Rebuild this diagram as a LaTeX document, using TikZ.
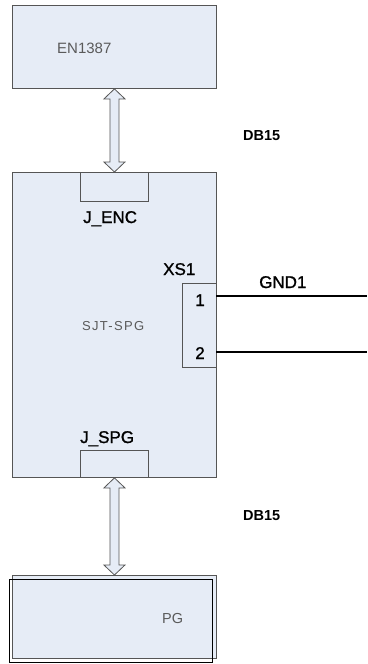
\documentclass[tikz,border=0pt]{standalone}
\usepackage{fontspec}
\setmainfont{Liberation Sans}
\usetikzlibrary{calc}
\definecolor{boxfill}{HTML}{E6ECF6}
\definecolor{boxline}{HTML}{555555}
\definecolor{txtgray}{HTML}{5A5A5A}
\tikzset{
  block/.style={draw=boxline, fill=boxfill, line width=0.9pt, inner sep=0pt, anchor=north west},
  plainbox/.style={draw=boxline, line width=0.9pt, inner sep=0pt, anchor=north west},
  graytext/.style={text=txtgray, font=\fontsize{15}{17}\selectfont, inner sep=0pt, anchor=base west},
  label/.style={text=black, font=\addfontfeature{FakeBold=1.2}\fontsize{17}{19}\selectfont, inner sep=0pt, anchor=base west},
  dblabel/.style={text=black, font=\bfseries\fontsize{14.5}{16}\selectfont, inner sep=0pt, anchor=base west},
  arrowbody/.style={draw=boxline, fill=boxfill, line width=0.8pt, line join=miter},
  pinline/.style={draw=black, line width=1.4pt}
}
\newcommand{\blockarrow}[2]{%
  \draw[arrowbody] let \p1=(#1), \p2=(#2) in
    (\x1,\y1) -- (\x1+10.5pt,\y1-10pt) -- (\x1+4.5pt,\y1-10pt) -- (\x1+4.5pt,\y2+10pt)
    -- (\x1+10.5pt,\y2+10pt) -- (\x1,\y2) -- (\x1-10.5pt,\y2+10pt) -- (\x1-4.5pt,\y2+10pt)
    -- (\x1-4.5pt,\y1-10pt) -- (\x1-10.5pt,\y1-10pt) -- cycle;}
\begin{document}
\begin{tikzpicture}[x=1pt,y=-1pt]
\useasboundingbox (0,0) rectangle (367,664);
% EN1387
\node[block, minimum width=204pt, minimum height=83pt] (en) at (12,5) {};
\node[graytext] (entext) at (57,53) {EN1387};
% SJT-SPG
\node[block, minimum width=204pt, minimum height=305pt] (spg) at (12,172) {};
\node[graytext, font=\addfontfeature{LetterSpace=10}\fontsize{13}{15}\selectfont] (spgtext) at (82,330) {SJT-SPG};
\node[plainbox, minimum width=68pt, minimum height=29pt] (jenc) at (80,172) {};
\node[label] (jenctext) at (83,223) {J\_ENC};
\node[plainbox, minimum width=68pt, minimum height=27pt] (jspg) at (80,450) {};
\node[label] (jspgtext) at (80,443) {J\_SPG};
% XS1 connector
\coordinate (xsa) at (216,283);
\coordinate (xsb) at (182,283);
\coordinate (xsc) at (182,367);
\coordinate (xsd) at (216,367);
\draw[draw=boxline, line width=0.9pt] (xsa) -- (xsb) -- (xsc) -- (xsd);
\node[label] (xs1) at (163,275) {XS1};
\node[label, anchor=base] (pin1) at (200,306) {1};
\node[label, anchor=base] (pin2) at (200,359) {2};
\coordinate (p1a) at (216,296);
\coordinate (p1b) at (367,296);
\coordinate (p2a) at (216,352);
\coordinate (p2b) at (367,352);
\draw[pinline] (p1a) -- (p1b);
\draw[pinline] (p2a) -- (p2b);
\node[label] (gnd) at (259,288) {GND1};
% PG
\node[block, minimum width=204pt, minimum height=83pt] (pg) at (12,575) {};
\node[draw=black, line width=0.9pt, inner sep=0pt, anchor=north west, minimum width=203pt, minimum height=83pt] (pgfront) at (9,579) {};
\node[graytext, font=\fontsize{14.5}{16}\selectfont] (pgtext) at (162,623) {PG};
% arrows
\blockarrow{en.south}{spg.north}
\blockarrow{spg.south}{pg.north}
\node[dblabel] (db1) at (243,140) {DB15};
\node[dblabel] (db2) at (243,520) {DB15};
\end{tikzpicture}
\end{document}
